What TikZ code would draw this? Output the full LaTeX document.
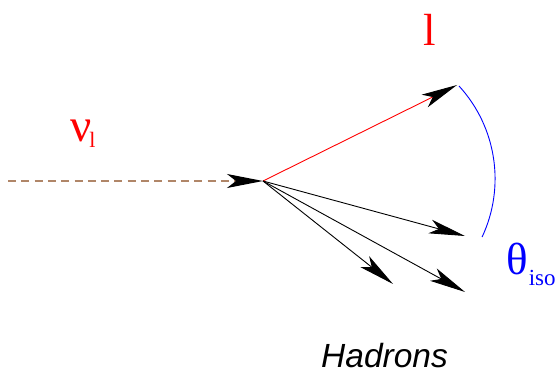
\documentclass[tikz,border=0pt]{standalone}
\usepackage{fontspec}
\setmainfont{Liberation Serif}
\setsansfont{Liberation Sans}
\usetikzlibrary{arrows.meta}
\definecolor{nubrown}{RGB}{176,134,104}
\definecolor{lred}{RGB}{255,0,0}
\definecolor{tblue}{RGB}{0,0,255}
\tikzset{
  blacktip/.style={-{Stealth[length=36pt,width=14pt,inset=9pt,black]}},
  track/.style={line width=0.9pt, blacktip},
  lbl/.style={inner sep=0pt, anchor=base west},
}
\begin{document}
\begin{tikzpicture}[x=1pt,y=-1pt]
\useasboundingbox (0,0) rectangle (557,374);
\coordinate (v) at (263,181);
\coordinate (nustart) at (8,181);
\coordinate (ltip) at (457,85);
\coordinate (h1) at (465,236);
\coordinate (h2) at (465,292);
\coordinate (h3) at (393,284);
\coordinate (arcstart) at (459,86);
% neutrino
\draw[nubrown, line width=1.5pt, dash pattern=on 8pt off 5.3pt, blacktip] (nustart) -- (v);
% lepton
\draw[lred, line width=0.9pt, blacktip] (v) -- (ltip);
% hadrons
\draw[track] (v) -- (h1);
\draw[track] (v) -- (h2);
\draw[track] (v) -- (h3);
% angle arc
\draw[tblue, line width=0.9pt] (arcstart) arc[start angle=42.5, end angle=-25.1, radius=137.3pt];
% labels
\node[lbl, text=lred] (nulbl) at (70,142) {\fontsize{47}{47}\selectfont ν\kern-2pt\raisebox{-6pt}{\fontsize{22}{22}\selectfont l}};
\node[lbl, text=lred] (llbl) at (423,46) {\fontsize{45}{45}\selectfont l};
\node[lbl, text=tblue] (thlbl) at (506,274) {\fontsize{45}{45}\selectfont θ\kern1pt\raisebox{-11pt}{\fontsize{23}{23}\selectfont iso}};
\node[lbl] (hlbl) at (321,367) {\fontsize{33.5}{33.5}\selectfont\sffamily\itshape Hadrons};
\end{tikzpicture}
\end{document}
